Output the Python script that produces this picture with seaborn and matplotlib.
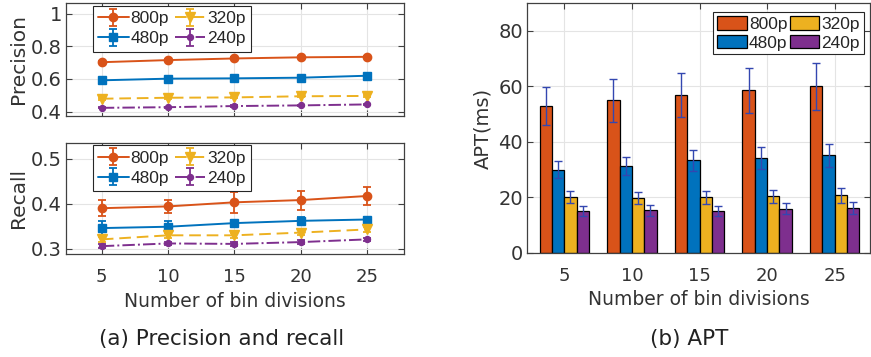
import numpy as np
import pandas as pd
import matplotlib
matplotlib.use("Agg")
import matplotlib.pyplot as plt
import seaborn as sns

# ---------------- data ----------------
bins = [5, 10, 15, 20, 25]
resolutions = ["800p", "480p", "320p", "240p"]

prec_800 = [0.703, 0.716, 0.726, 0.733, 0.736]
prec_480 = [0.592, 0.602, 0.604, 0.608, 0.620]
prec_320 = [0.479, 0.485, 0.487, 0.494, 0.496]
prec_240 = [0.423, 0.427, 0.434, 0.438, 0.444]
prec_err_800 = [0.006, 0.006, 0.006, 0.006, 0.006]
prec_err_480 = [0.005, 0.005, 0.005, 0.005, 0.005]
prec_err_320 = [0.005, 0.005, 0.005, 0.005, 0.005]
prec_err_240 = [0.004, 0.004, 0.004, 0.004, 0.004]

rec_800 = [0.390, 0.394, 0.403, 0.408, 0.417]
rec_480 = [0.346, 0.349, 0.357, 0.362, 0.365]
rec_320 = [0.321, 0.330, 0.330, 0.336, 0.343]
rec_240 = [0.306, 0.312, 0.311, 0.315, 0.321]
rec_err_800 = [0.018, 0.015, 0.023, 0.021, 0.019]
rec_err_480 = [0.015, 0.013, 0.008, 0.008, 0.006]
rec_err_320 = [0.005, 0.005, 0.005, 0.005, 0.005]
rec_err_240 = [0.004, 0.004, 0.004, 0.004, 0.004]

apt_800 = [52.9, 55.0, 56.9, 58.6, 60.0]
apt_480 = [30.0, 31.4, 33.3, 34.1, 35.1]
apt_320 = [20.0, 19.7, 20.0, 20.3, 20.7]
apt_240 = [15.1, 15.3, 15.1, 15.9, 16.1]
apt_err_800 = [7.0, 7.7, 8.1, 8.1, 8.6]
apt_err_480 = [3.2, 3.2, 3.7, 4.0, 4.2]
apt_err_320 = [2.2, 2.3, 2.4, 2.4, 2.6]
apt_err_240 = [1.8, 1.9, 1.9, 2.0, 2.2]

# ---------------- style ----------------
sns.set_style("whitegrid")
plt.rcParams["font.family"] = ["DejaVu Sans"]
AX = "#404040"
plt.rcParams.update({
    "axes.edgecolor": AX,
    "axes.linewidth": 0.9,
    "grid.color": "#e4e4e4",
    "grid.linewidth": 0.8,
    "xtick.color": AX,
    "ytick.color": AX,
    "xtick.labelcolor": "#333333",
    "ytick.labelcolor": "#333333",
    "axes.labelcolor": "#333333",
    "xtick.direction": "in",
    "ytick.direction": "in",
    "xtick.major.size": 4,
    "ytick.major.size": 4,
    "xtick.major.width": 0.8,
    "ytick.major.width": 0.8,
})

colors = ["#D95319", "#0072BD", "#EDB120", "#7E2F8E"]
markers = ["o", "s", "v", "o"]
msizes = [6.0, 5.6, 7.0, 4.3]
lstyles = ["-", "-", (0, (6, 3)), "-."]

fig = plt.figure(figsize=(8.71, 3.57), dpi=100)
ax1 = fig.add_axes([0.0758, 0.676, 0.388, 0.315])
ax2 = fig.add_axes([0.0758, 0.2877, 0.388, 0.3126])
ax3 = fig.add_axes([0.605, 0.2922, 0.3938, 0.6986])

legend_font = {"family": "Liberation Sans", "size": 12.5}


def line_panel(ax, series, errs, ylabel, ylim, yticks, yticklabels):
    handles = []
    for name, vals, err, c, m, ms, ls in zip(resolutions, series, errs, colors,
                                             markers, msizes, lstyles):
        h = ax.errorbar(bins, vals, yerr=err, color=c, marker=m, markersize=ms,
                        linestyle=ls, linewidth=1.4, elinewidth=1.3, capsize=3.2,
                        capthick=1.3, label=name, zorder=3)
        handles.append(h)
    ax.set_xlim(2.3, 27.8)
    ax.set_ylim(*ylim)
    ax.set_xticks(bins)
    ax.set_yticks(yticks)
    ax.set_yticklabels(yticklabels)
    ax.set_ylabel(ylabel, fontsize=14.5, labelpad=2)
    ax.tick_params(axis="y", labelsize=14, pad=3)
    ax.tick_params(top=True, right=True, bottom=True, left=True)
    for s in ax.spines.values():
        s.set_visible(True)
    leg = ax.legend(handles, resolutions, ncol=2, loc="upper left",
                    bbox_to_anchor=(0.08, 0.975), borderaxespad=0,
                    prop=legend_font, frameon=True, fancybox=False,
                    edgecolor="#262626", framealpha=1, handlelength=1.75,
                    handletextpad=0.1, columnspacing=0.35, labelspacing=0.28,
                    borderpad=0.3)
    leg.get_frame().set_linewidth(0.8)
    return ax


line_panel(ax1, [prec_800, prec_480, prec_320, prec_240],
           [prec_err_800, prec_err_480, prec_err_320, prec_err_240],
           "Precision", (0.375, 1.065), [0.4, 0.6, 0.8, 1.0],
           ["0.4", "0.6", "0.8", "1"])
ax1.tick_params(axis="x", labelbottom=False)

line_panel(ax2, [rec_800, rec_480, rec_320, rec_240],
           [rec_err_800, rec_err_480, rec_err_320, rec_err_240],
           "Recall", (0.288, 0.535), [0.3, 0.4, 0.5], ["0.3", "0.4", "0.5"])
ax2.tick_params(axis="x", labelsize=13, pad=10)
ax2.set_xlabel("Number of bin divisions", fontsize=13.5, labelpad=4)

# ---------------- bar panel ----------------
df = pd.DataFrame({
    "bins": bins * 4,
    "res": sum([[r] * len(bins) for r in resolutions], []),
    "apt": apt_800 + apt_480 + apt_320 + apt_240,
})
sns.barplot(data=df, x="bins", y="apt", hue="res", hue_order=resolutions,
            palette=colors, width=0.73, edgecolor="black", linewidth=0.9,
            errorbar=None, legend=False, saturation=1, ax=ax3)
apt_errs = [apt_err_800, apt_err_480, apt_err_320, apt_err_240]
for cont, err in zip(ax3.containers, apt_errs):
    xs = [p.get_x() + p.get_width() / 2 for p in cont]
    ys = [p.get_height() for p in cont]
    ax3.errorbar(xs, ys, yerr=err, fmt="none", ecolor="#3347b0",
                 elinewidth=1.0, capsize=3, capthick=1.0, zorder=4)
ax3.set_xlim(-0.551, 4.52)
ax3.set_ylim(0, 90)
ax3.set_yticks([0, 20, 40, 60, 80])
ax3.set_axisbelow(True)
ax3.grid(True, axis="both")
ax3.tick_params(top=True, right=True, bottom=True, left=True)
ax3.tick_params(axis="y", labelsize=14, pad=3)
ax3.tick_params(axis="x", labelsize=13, pad=10)
for s in ax3.spines.values():
    s.set_visible(True)
ax3.set_ylabel("APT(ms)", fontsize=14, labelpad=4)
ax3.set_xlabel("Number of bin divisions", fontsize=13.5, labelpad=4)
leg = ax3.legend(ax3.containers, resolutions, ncol=2, loc="upper right",
                 bbox_to_anchor=(0.982, 0.964), borderaxespad=0,
                 prop=legend_font, frameon=True, fancybox=False,
                 edgecolor="#262626", framealpha=1, handlelength=1.7,
                 handleheight=0.85, handletextpad=0.12, columnspacing=0.15,
                 labelspacing=0.15, borderpad=0.22)
leg.get_frame().set_linewidth(0.8)

# ---------------- captions ----------------
fig.text(222 / 871, 1 - 339 / 357, "(a) Precision and recall", fontsize=15.5,
         ha="center", va="center", color="#222222")
fig.text(689 / 871, 1 - 339 / 357, "(b) APT", fontsize=15.5,
         ha="center", va="center", color="#222222")

fig.savefig("out.png", dpi=100)
